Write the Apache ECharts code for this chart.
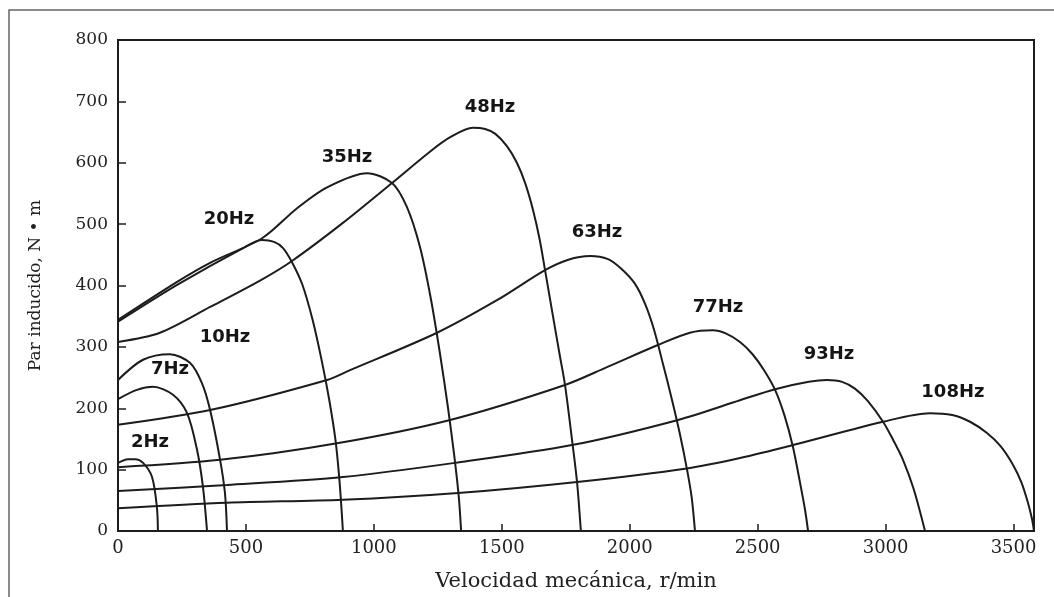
<!DOCTYPE html>
<html>
<head>
<meta charset="utf-8">
<title>Par inducido vs velocidad mecánica</title>
<script src="https://cdn.jsdelivr.net/npm/echarts@6.0.0/dist/echarts.min.js"></script>
<style>
    html, body { margin: 0; padding: 0; background: #fff; }
    #chart { width: 1054px; height: 597px; }
</style>
</head>
<body>
<div id="chart"></div>
<script>
//曲线数据: [转速 r/min, 转矩 N·m]
var curve2Hz = [[0, 111], [39, 117], [66, 117], [98, 111], [133, 88], [152, 39], [156, 0]];
var curve7Hz = [[0, 215], [74, 230], [137, 235], [215, 222], [270, 192], [309, 132], [332, 72], [348, 0]];
var curve10Hz = [[0, 246], [98, 279], [203, 288], [281, 274], [328, 241], [360, 197], [399, 116], [418, 62], [426, 0]];
var curve20Hz = [[0, 341], [231, 401], [489, 461], [563, 474], [610, 471], [645, 461], [680, 438], [720, 402], [760, 345], [795, 280], [825, 215], [850, 148], [866, 80], [879, 0]];
var curve35Hz = [[0, 344], [231, 406], [360, 437], [563, 477], [700, 526], [817, 560], [973, 583], [1071, 567], [1129, 528], [1180, 463], [1222, 380], [1258, 290], [1290, 200], [1315, 120], [1332, 55], [1341, 0]];
var curve48Hz = [[0, 308], [164, 323], [360, 365], [555, 408], [680, 440], [879, 502], [1071, 567], [1219, 618], [1300, 642], [1387, 657], [1435, 655], [1475, 647], [1520, 627], [1559, 600], [1592, 566], [1622, 523], [1648, 475], [1669, 425], [1700, 350], [1725, 290], [1747, 238], [1774, 150], [1794, 80], [1809, 0]];
var curve63Hz = [[0, 173], [360, 197], [817, 246], [907, 262], [1247, 323], [1481, 376], [1669, 425], [1760, 442], [1845, 448], [1915, 443], [1965, 428], [2020, 403], [2060, 370], [2095, 328], [2130, 272], [2165, 214], [2195, 160], [2224, 100], [2242, 55], [2255, 0]];
var curve77Hz = [[0, 104], [399, 116], [856, 143], [1298, 181], [1747, 238], [1911, 267], [2110, 303], [2235, 323], [2325, 327], [2375, 322], [2431, 308], [2480, 288], [2525, 262], [2568, 230], [2605, 188], [2638, 137], [2665, 80], [2685, 35], [2697, 0]];
var curve93Hz = [[0, 65], [426, 75], [879, 88], [1317, 111], [1774, 140], [2189, 181], [2431, 213], [2568, 231], [2700, 243], [2771, 246], [2830, 243], [2880, 232], [2930, 212], [2990, 178], [3030, 148], [3068, 116], [3110, 68], [3154, 0]];
var curve108Hz = [[0, 37], [426, 46], [879, 51], [1329, 62], [1794, 80], [2224, 102], [2431, 119], [2638, 140], [2990, 178], [3173, 192], [3260, 189], [3330, 178], [3395, 160], [3450, 138], [3495, 110], [3530, 80], [3555, 48], [3572, 20], [3580, 0]];

//频率标签及其位置
var freqNames = ['2Hz', '7Hz', '10Hz', '20Hz', '35Hz', '48Hz', '63Hz', '77Hz', '93Hz', '108Hz'];
var labelRpm = [125, 203, 418, 434, 895, 1454, 1872, 2345, 2779, 3263];
var labelTorque = [145, 264, 316, 508, 609, 691, 487, 365, 288, 226];

//坐标轴刻度
var xTicks = { min: 0, max: 3580, interval: 500 };
var yTicks = { min: 0, max: 800, interval: 100 };

var allCurves = [curve2Hz, curve7Hz, curve10Hz, curve20Hz, curve35Hz, curve48Hz, curve63Hz, curve77Hz, curve93Hz, curve108Hz];

var myChart = echarts.init(document.getElementById('chart'), null, { renderer: 'canvas' });

var inkColor = '#1c1c1c';
var seriesAry = [];
for (var i = 0; i < allCurves.length; i++) {
    seriesAry.push({
        name: freqNames[i],
        type: 'line',
        data: allCurves[i],
        showSymbol: false,
        smooth: 0.3,
        silent: true,
        lineStyle: { color: inkColor, width: 2 }
    });
}

//频率文字
var labelData = [];
for (var j = 0; j < freqNames.length; j++) {
    labelData.push({ name: freqNames[j], value: [labelRpm[j], labelTorque[j]] });
}
seriesAry.push({
    type: 'scatter',
    data: labelData,
    symbolSize: 1,
    silent: true,
    itemStyle: { color: 'rgba(0,0,0,0)' },
    label: {
        show: true,
        position: 'inside',
        formatter: function (p) { return p.name; },
        fontFamily: 'DejaVu Sans',
        fontSize: 18,
        fontWeight: 'bold',
        color: '#151515',
        opacity: 1,
        textBorderWidth: 0,
        textBorderColor: 'transparent'
    }
});

//刻度文字不加千分位
function plainNumber(v) {
    return String(v);
}

var option = {
    backgroundColor: '#fff',
    animation: false,
    graphic: [{
        type: 'rect',
        silent: true,
        shape: { x: 9, y: 10, width: 1100, height: 700 },
        style: { fill: 'none', stroke: '#666', lineWidth: 1.5 }
    }],
    grid: {
        left: 118,
        right: 20,
        top: 40,
        bottom: 66,
        show: true,
        borderColor: inkColor,
        borderWidth: 2,
        backgroundColor: 'transparent'
    },
    xAxis: {
        type: 'value',
        min: xTicks.min,
        max: xTicks.max,
        interval: xTicks.interval,
        name: 'Velocidad mecánica, r/min',
        nameLocation: 'middle',
        nameGap: 40,
        nameTextStyle: { fontFamily: 'DejaVu Serif', fontSize: 21, color: '#222' },
        axisLine: { show: true, lineStyle: { color: inkColor, width: 2 } },
        axisTick: { show: true, inside: true, length: 7, lineStyle: { color: inkColor, width: 1.5 } },
        axisLabel: {
            showMaxLabel: false,
            margin: 8,
            formatter: plainNumber,
            fontFamily: 'DejaVu Serif',
            fontSize: 18,
            color: '#222'
        },
        splitLine: { show: false }
    },
    yAxis: {
        type: 'value',
        min: yTicks.min,
        max: yTicks.max,
        interval: yTicks.interval,
        name: 'Par inducido, N • m',
        nameLocation: 'middle',
        nameGap: 74,
        nameRotate: 90,
        nameTextStyle: { fontFamily: 'DejaVu Serif', fontSize: 17, color: '#222' },
        axisLine: { show: true, lineStyle: { color: inkColor, width: 2 } },
        axisTick: { show: true, inside: true, length: 8, lineStyle: { color: inkColor, width: 1.5 } },
        axisLabel: {
            margin: 10,
            formatter: plainNumber,
            fontFamily: 'DejaVu Serif',
            fontSize: 17,
            color: '#222'
        },
        splitLine: { show: false }
    },
    series: seriesAry
};

myChart.setOption(option);

window.addEventListener('resize', function () {
    myChart.resize();
});
</script>
</body>
</html>
